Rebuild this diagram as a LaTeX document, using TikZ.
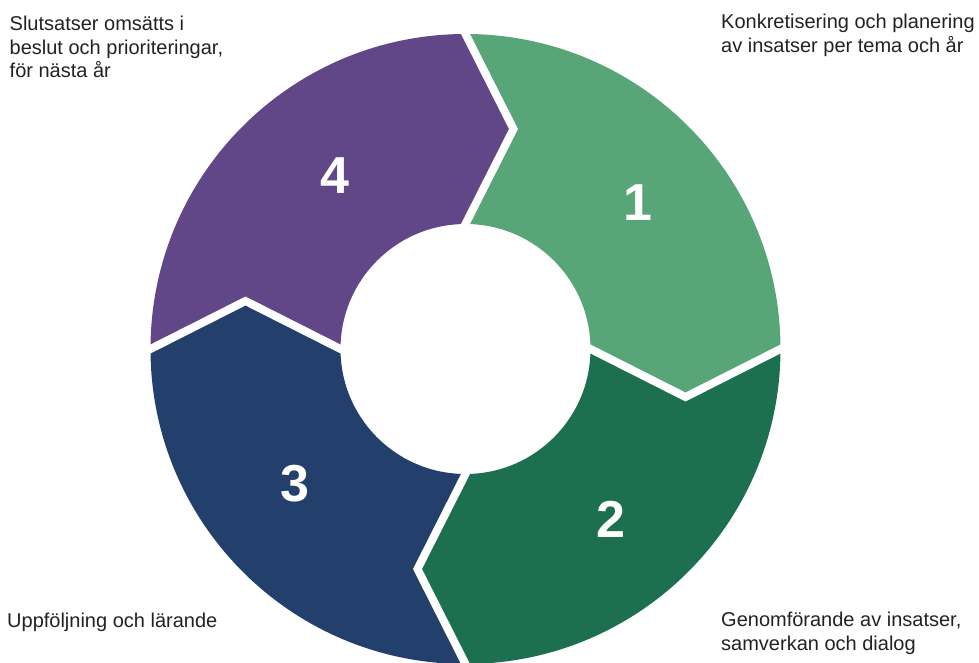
\documentclass[tikz,border=0pt]{standalone}
\usepackage{fontspec}
\setmainfont{Liberation Sans}
\usetikzlibrary{calc}
\definecolor{cone}{HTML}{58A578}
\definecolor{ctwo}{HTML}{1C7050}
\definecolor{cthree}{HTML}{23406C}
\definecolor{cfour}{HTML}{614788}
\definecolor{txt}{HTML}{222222}
\tikzset{
  gapline/.style={white, line width=8pt, line join=miter, line cap=butt},
  numlabel/.style={text=white, font=\fontsize{52}{60}\selectfont\bfseries, inner sep=0pt, anchor=center},
  caption/.style={text=txt, font=\fontsize{20}{23.5}\selectfont, inner sep=0pt, align=left, anchor=base west}
}
\begin{document}
\begin{tikzpicture}[x=1pt,y=1pt]
\useasboundingbox (-465.5,-313) rectangle (513.5,349);
% divider points
\coordinate (Ot) at (90:315);  \coordinate (It) at (90:125);  \coordinate (Tt) at (48,220);
\coordinate (Or) at (0:315);   \coordinate (Ir) at (0:125);   \coordinate (Tr) at (220,-48);
\coordinate (Ob) at (-90:315); \coordinate (Ib) at (-90:125); \coordinate (Tb) at (-48,-220);
\coordinate (Ol) at (180:315); \coordinate (Il) at (180:125); \coordinate (Tl) at (-220,48);
% segments
\fill[cone] (Ot) arc[start angle=90,end angle=0,radius=315] -- (Tr) -- (Ir)
  arc[start angle=0,end angle=90,radius=125] -- (Tt) -- cycle;
\fill[ctwo] (Or) arc[start angle=0,end angle=-90,radius=315] -- (Tb) -- (Ib)
  arc[start angle=-90,end angle=0,radius=125] -- (Tr) -- cycle;
\fill[cthree] (Ob) arc[start angle=-90,end angle=-180,radius=315] -- (Tl) -- (Il)
  arc[start angle=180,end angle=270,radius=125] -- (Tb) -- cycle;
\fill[cfour] (Ol) arc[start angle=180,end angle=90,radius=315] -- (Tt) -- (It)
  arc[start angle=90,end angle=180,radius=125] -- (Tl) -- cycle;
% white gaps
\draw[gapline] ($(Tt)!1.08!(Ot)$) -- (Tt) -- ($(Tt)!1.08!(It)$);
\draw[gapline] ($(Tr)!1.08!(Or)$) -- (Tr) -- ($(Tr)!1.08!(Ir)$);
\draw[gapline] ($(Tb)!1.08!(Ob)$) -- (Tb) -- ($(Tb)!1.08!(Ib)$);
\draw[gapline] ($(Tl)!1.08!(Ol)$) -- (Tl) -- ($(Tl)!1.08!(Il)$);
% numbers
\node[numlabel] (n1) at (172,146) {1};
\node[numlabel] (n2) at (145.5,-170) {2};
\node[numlabel] (n3) at (-170.5,-135) {3};
\node[numlabel] (n4) at (-130.5,173) {4};
% captions (base = last line's baseline)
\node[caption] (t4) at (-456,271) {Slutsatser omsätts i\\beslut och prioriteringar,\\för nästa år};
\node[caption] (t1) at (255.5,296.5) {Konkretisering och planering\\av insatser per tema och år};
\node[caption] (t2) at (255.5,-301) {Genomförande av insatser,\\samverkan och dialog};
\node[caption] (t3) at (-458.5,-278) {Uppföljning och lärande};
\end{tikzpicture}
\end{document}
